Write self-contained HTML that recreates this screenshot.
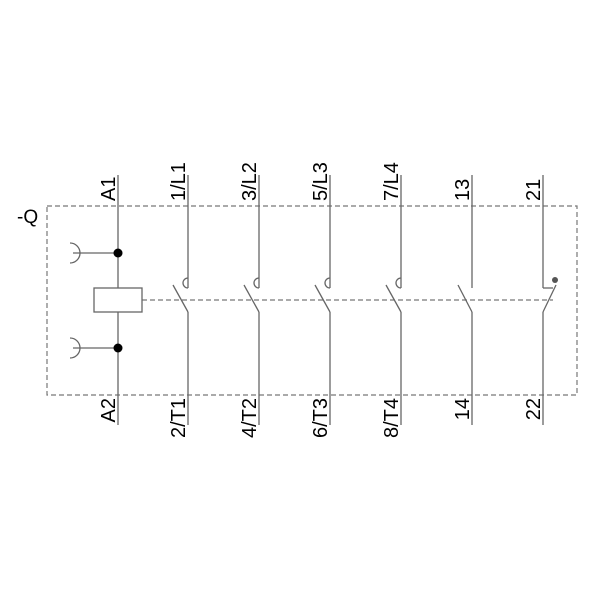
<!DOCTYPE html>
<html><head><style>html,body{margin:0;padding:0;background:#fff}svg{display:block}</style></head>
<body>
<svg width="600" height="600" viewBox="0 0 600 600" xmlns="http://www.w3.org/2000/svg" font-family="Liberation Sans, sans-serif" font-size="20" fill="#000">
<g stroke="#777" stroke-width="1.2" fill="none">
<rect x="47" y="206" width="530" height="189" stroke-dasharray="5,3"/>
<line x1="142" y1="300" x2="553" y2="300" stroke-dasharray="5,3"/>
</g>
<g stroke="#666" stroke-width="1.3" fill="none">
<line x1="118" y1="175" x2="118" y2="288"/>
<line x1="118" y1="312" x2="118" y2="425"/>
<rect x="94" y="288" width="48" height="24"/>
<line x1="73" y1="253" x2="118" y2="253"/>
<line x1="73" y1="348" x2="118" y2="348"/>
<path d="M70 243 A10 10 0 0 1 70 263"/>
<path d="M70 338 A10 10 0 0 1 70 358"/>
<g id="pc">
<line x1="188" y1="175" x2="188" y2="288"/>
<path d="M188 278 A5 5 0 0 0 188 288"/>
<line x1="173" y1="285" x2="188" y2="312"/>
<line x1="188" y1="312" x2="188" y2="425"/>
</g>
<use href="#pc" x="71"/>
<use href="#pc" x="142"/>
<use href="#pc" x="213"/>
<line x1="472" y1="175" x2="472" y2="288"/>
<line x1="458" y1="285" x2="472" y2="312"/>
<line x1="472" y1="312" x2="472" y2="425"/>
<line x1="543" y1="175" x2="543" y2="288"/>
<line x1="543" y1="288" x2="553" y2="288"/>
<line x1="556" y1="285" x2="543" y2="312"/>
<line x1="543" y1="312" x2="543" y2="425"/>
</g>
<circle cx="118" cy="253" r="4.5" fill="#000"/>
<circle cx="118" cy="348" r="4.5" fill="#000"/>
<circle cx="555" cy="280" r="3" fill="#555"/>
<text x="17" y="223" font-size="19">-Q</text>
<g text-anchor="start">
<text transform="translate(115,201) rotate(-90)">A1</text>
<text transform="translate(185,201) rotate(-90)">1/L1</text>
<text transform="translate(256,201) rotate(-90)">3/L2</text>
<text transform="translate(327,201) rotate(-90)">5/L3</text>
<text transform="translate(398,201) rotate(-90)">7/L4</text>
<text transform="translate(469,201) rotate(-90)">13</text>
<text transform="translate(540,201) rotate(-90)">21</text>
</g>
<g text-anchor="end">
<text transform="translate(115,398) rotate(-90)">A2</text>
<text transform="translate(185,398) rotate(-90)">2/T1</text>
<text transform="translate(256,398) rotate(-90)">4/T2</text>
<text transform="translate(327,398) rotate(-90)">6/T3</text>
<text transform="translate(398,398) rotate(-90)">8/T4</text>
<text transform="translate(469,398) rotate(-90)">14</text>
<text transform="translate(540,398) rotate(-90)">22</text>
</g>
</svg>
</body></html>
